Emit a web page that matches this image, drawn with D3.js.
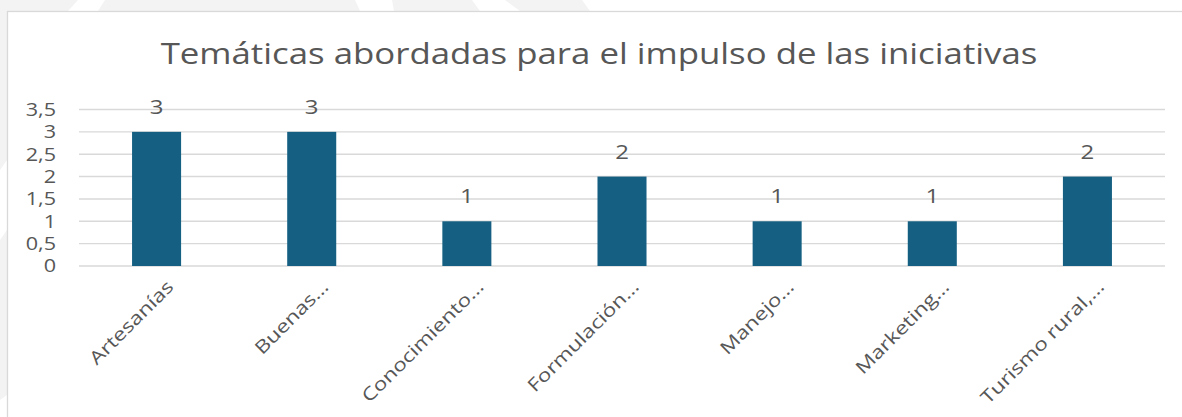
<!DOCTYPE html>
<html>
<head>
<meta charset="utf-8">
<script src="https://cdn.jsdelivr.net/npm/d3@7"></script>
<style>
  body { margin: 0; background: #fff; }
  svg { display: block; }
  text { font-family: "Open Sans", sans-serif; fill: #575757; }
</style>
</head>
<body>
<svg id="chart"></svg>
<script>
// data
var categories = ["Artesanías", "Buenas…", "Conocimiento…", "Formulación…", "Manejo…", "Marketing…", "Turismo rural,…"];
var values = [3, 3, 1, 2, 1, 1, 2];
var yTicks = [0, 0.5, 1, 1.5, 2, 2.5, 3, 3.5];
var title = "Temáticas abordadas para el impulso de las iniciativas";

var W = 1182, H = 417;
var stretch = 1.2; // the source picture is a bit stretched sideways

var svg = d3.select("#chart").attr("width", W).attr("height", H);

// page background behind the chart (faint grey pattern)
svg.append("path")
    .attr("d", "M0,0 L582,0 L590,11 L7,11 L7,395 L0,400 Z")
    .style("fill", "#f3f3f3");
svg.append("path").attr("d", "M78,0 L105,0 L98,11 L68,11 Z").style("fill", "#fff");
svg.append("path").attr("d", "M355,0 L392,0 L394,11 L360,11 Z").style("fill", "#fff");
svg.append("path").attr("d", "M472,0 L505,0 L520,11 L480,11 Z").style("fill", "#fff");
svg.append("path").attr("d", "M0,170 L7,160 L7,230 L0,240 Z").style("fill", "#fff");

// chart area
svg.append("rect")
    .attr("x", 7.5).attr("y", 11.5)
    .attr("width", W).attr("height", H)
    .style("fill", "#fff")
    .style("stroke", "#d9d9d9")
    .style("stroke-width", 1.3);

var x = d3.scaleBand()
    .domain(categories)
    .range([79, 1165])
    .paddingInner(0.684)
    .paddingOuter(0.342);

var y = d3.scaleLinear()
    .domain([0, 3.5])
    .range([266, 109.5]);

var fmt = d3.formatLocale({decimal: ",", thousands: ".", grouping: [3], currency: ["", "€"]}).format("~g");

// gridlines
svg.append("g")
    .selectAll("line")
    .data(yTicks)
    .enter()
    .append("line")
    .attr("x1", 79).attr("x2", 1165)
    .attr("y1", function(d) { return y(d); })
    .attr("y2", function(d) { return y(d); })
    .style("stroke", "#d9d9d9")
    .style("stroke-width", 1.4);

// y labels
svg.append("g")
    .selectAll("text")
    .data(yTicks)
    .enter()
    .append("text")
    .attr("transform", function(d) { return "translate(56," + (y(d) + 6.3) + ") scale(" + stretch + ",1)"; })
    .style("text-anchor", "end")
    .style("font-size", "18px")
    .text(function(d) { return fmt(d); });

// bars
svg.append("g")
    .selectAll("rect")
    .data(values)
    .enter()
    .append("rect")
    .attr("x", function(d, i) { return x(categories[i]); })
    .attr("y", function(d) { return y(d); })
    .attr("width", x.bandwidth())
    .attr("height", function(d) { return y(0) - y(d); })
    .style("fill", "#156082");

// data labels
svg.append("g")
    .selectAll("text")
    .data(values)
    .enter()
    .append("text")
    .attr("transform", function(d, i) {
        return "translate(" + (x(categories[i]) + x.bandwidth() / 2) + "," + (y(d) - 18) + ") scale(" + stretch + ",1)";
    })
    .style("text-anchor", "middle")
    .style("font-size", "20px")
    .text(function(d) { return d; });

// category labels, rotated
svg.append("g")
    .selectAll("text")
    .data(categories)
    .enter()
    .append("text")
    .attr("transform", function(d) {
        var cx = x(d) + x.bandwidth() / 2;
        return "translate(" + (cx + 18) + "," + (y(0) + 22) + ") rotate(-45) scale(1.25,1)";
    })
    .style("text-anchor", "end")
    .style("font-size", "18px")
    .text(function(d) { return d; });

// title
svg.append("text")
    .attr("transform", "translate(599,64) scale(" + stretch + ",1)")
    .style("text-anchor", "middle")
    .style("font-size", "29px")
    .text(title);
</script>
</body>
</html>
